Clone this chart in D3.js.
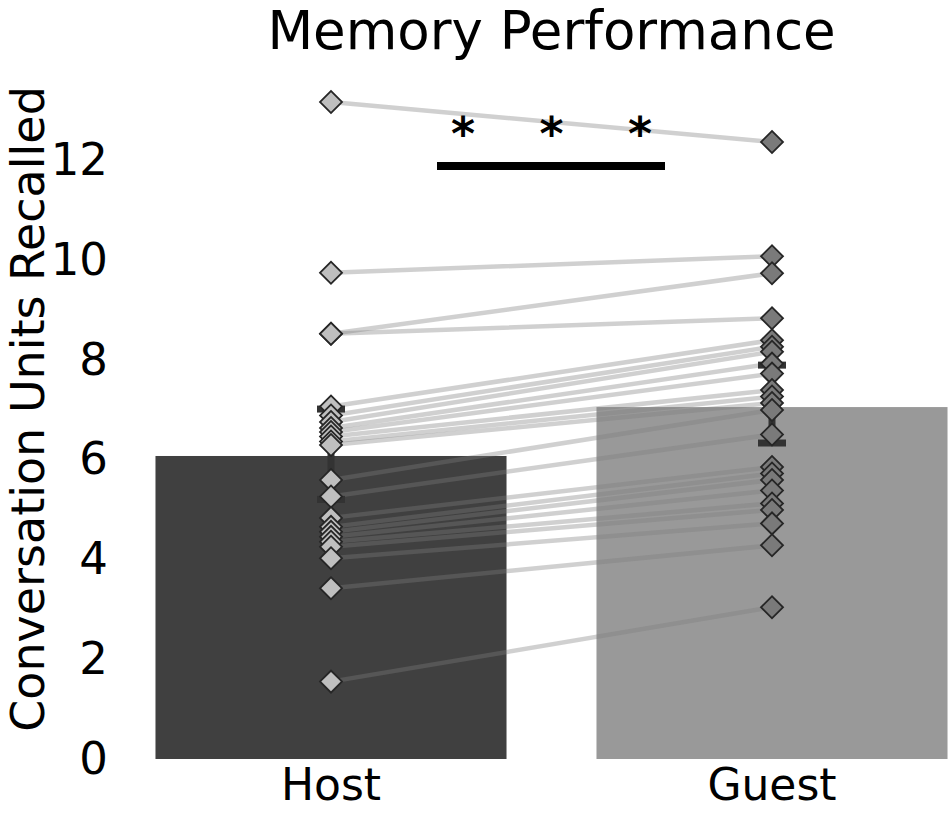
<!DOCTYPE html>
<html>
<head>
<meta charset="utf-8">
<script src="https://cdn.jsdelivr.net/npm/d3@7"></script>
<style>
  html, body { margin: 0; padding: 0; background: #fff; }
  svg { display: block; font-family: "DejaVu Sans", sans-serif; }
</style>
</head>
<body>
<svg id="chart" width="952" height="816"></svg>
<script>
// ---- data ----
const categories = ["Host", "Guest"];
const hostValues  = [13.16, 9.74, 8.52, 8.52, 7.06, 6.88, 6.75, 6.63, 6.55, 6.46, 6.36, 6.29, 5.59, 5.26, 4.83, 4.65, 4.55, 4.45, 4.35, 4.25, 4.02, 3.42, 1.55];
const guestValues = [12.36, 10.07, 9.73, 8.83, 8.39, 8.26, 8.16, 7.92, 7.72, 7.39, 7.26, 7.13, 6.99, 6.50, 5.85, 5.72, 5.59, 5.38, 5.12, 4.99, 4.72, 4.28, 3.04];
const barMeans = [6.07, 7.05];
const ciLow  = [5.20, 6.33];
const ciHigh = [7.01, 7.89];
const yTicks = [0, 2, 4, 6, 8, 10, 12];
const sigBarValue = 11.88;
const sigStarValue = 12.64;
const sigStars = ["*", "*", "*"];
const titleText = "Memory Performance";
const yLabelText = "Conversation Units Recalled";

// ---- layout ----
const svg = d3.select("#chart");
const x = d3.scaleBand().domain(categories).range([110.5, 992.5]).paddingInner(0.204).paddingOuter(0.102);
const y = d3.scaleLinear().domain([0, 13.5]).range([759, 759 - 13.5 * 49.92]);
const cx = c => x(c) + x.bandwidth() / 2;

const barFill = ["#404040", "#999999"];
const pointFill = ["#bfbfbf", "#7a7a7a"];

// bars
svg.append("g").selectAll("rect").data(categories).join("rect")
  .attr("x", d => x(d)).attr("width", x.bandwidth())
  .attr("y", (d, i) => y(barMeans[i]))
  .attr("height", (d, i) => y(0) - y(barMeans[i]))
  .attr("fill", (d, i) => barFill[i]);

// paired lines
const pairs = hostValues.map((h, i) => [h, guestValues[i]]);
svg.append("g").selectAll("line").data(pairs).join("line")
  .attr("x1", cx("Host")).attr("x2", cx("Guest"))
  .attr("y1", d => y(d[0])).attr("y2", d => y(d[1]))
  .attr("stroke", "#7d7d7d").attr("stroke-opacity", 0.36)
  .attr("stroke-width", 4.5).attr("stroke-linecap", "round");

// error bars
const eg = svg.append("g");
categories.forEach((c, i) => {
  eg.append("line").attr("x1", cx(c)).attr("x2", cx(c))
    .attr("y1", y(ciLow[i])).attr("y2", y(ciHigh[i]))
    .attr("stroke", "#333").attr("stroke-width", 7);
  [ciLow[i], ciHigh[i]].forEach(v => {
    eg.append("line").attr("x1", cx(c) - 14).attr("x2", cx(c) + 14)
      .attr("y1", y(v)).attr("y2", y(v))
      .attr("stroke", "#333").attr("stroke-width", 7);
  });
});

// points (diamonds)
const diamond = d3.symbol().type(d3.symbolSquare).size(242);
[hostValues, guestValues].forEach((vals, i) => {
  svg.append("g").selectAll("path").data(vals).join("path")
    .attr("d", diamond)
    .attr("transform", d => `translate(${cx(categories[i])},${y(d)}) rotate(45)`)
    .attr("fill", pointFill[i]).attr("stroke", "#262626").attr("stroke-width", 1.8);
});

// y axis (no spine, no ticks)
const yAxis = svg.append("g").attr("transform", `translate(155,0)`)
  .call(d3.axisLeft(y).tickValues(yTicks).tickSize(0).tickPadding(47));
yAxis.select(".domain").remove();
yAxis.selectAll("text").attr("font-size", 45).attr("font-family", "DejaVu Sans").attr("fill", "#000");

// x axis labels
const xAxis = svg.append("g").attr("transform", `translate(0,759)`)
  .call(d3.axisBottom(x).tickSize(0).tickPadding(10));
xAxis.select(".domain").remove();
xAxis.selectAll("text").attr("font-size", 44).attr("font-family", "DejaVu Sans").attr("fill", "#000")
  .attr("dy", "0.71em");

// title
svg.append("text").attr("x", 551.5).attr("y", 49).attr("text-anchor", "middle")
  .attr("font-size", 53).attr("fill", "#000").text(titleText);

// y label
svg.append("text").attr("transform", `translate(43.5,409) rotate(-90)`)
  .attr("text-anchor", "middle").attr("font-size", 46).attr("fill", "#000").text(yLabelText);

// significance bar
const sx1 = cx("Host") + 106, sx2 = cx("Guest") - 107;
svg.append("line").attr("x1", sx1).attr("x2", sx2)
  .attr("y1", y(sigBarValue)).attr("y2", y(sigBarValue))
  .attr("stroke", "#000").attr("stroke-width", 8);
const starX = d3.scalePoint().domain(d3.range(sigStars.length)).range([(cx("Host") + cx("Guest")) / 2 - 88.5, (cx("Host") + cx("Guest")) / 2 + 88.5]);
svg.append("g").selectAll("text").data(sigStars).join("text")
  .attr("x", (d, i) => starX(i)).attr("y", y(sigStarValue))
  .attr("text-anchor", "middle").attr("dominant-baseline", "central")
  .attr("font-size", 46).attr("font-weight", "bold").attr("fill", "#000")
  .attr("dy", "0.12em")
  .text(d => d);
</script>
</body>
</html>
